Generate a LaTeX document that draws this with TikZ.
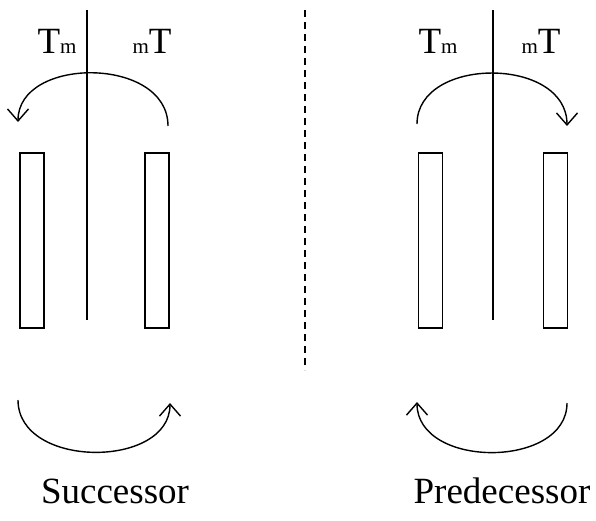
\documentclass[tikz,border=0pt]{standalone}
\usepackage{fontspec}
\setmainfont{Liberation Serif}
\usetikzlibrary{arrows.meta}

\newcommand{\Tsub}{T{\fontsize{21}{21}\selectfont m}}
\newcommand{\subT}{{\fontsize{21}{21}\selectfont m}T}

\begin{document}
\begin{tikzpicture}[x=1pt,y=-1pt,
  bar/.style={draw,line width=1.1pt,minimum width=24pt,minimum height=175pt,inner sep=0pt},
  axis/.style={line width=1.4pt},
  turn/.style={line width=1.4pt,-{Straight Barb[length=12pt,width=21pt]}},
  lbl/.style={font=\fontsize{37}{42}\selectfont,anchor=base,inner sep=0pt}]
\useasboundingbox (0,0) rectangle (596,520);

% successor side
\node[bar] (s1) at (32,240.5) {};
\node[bar] (s2) at (157,240.5) {};
\coordinate (sTop) at (87,10);
\coordinate (sBot) at (87,320);
\draw[axis] (sTop) -- (sBot);
\node[lbl] (sL) at (57,53) {\Tsub};
\node[lbl] (sR) at (152,53) {\subT};
\coordinate (sa1) at (168,126);
\coordinate (sa2) at (18,122);
\draw[turn] (sa1) .. controls (168,56) and (18,56) .. (sa2);
\coordinate (sb1) at (18,400);
\coordinate (sb2) at (170,403);
\draw[turn] (sb1) .. controls (18,469) and (170,469) .. (sb2);
\node[lbl] (succ) at (115,503) {Successor};

% divider
\coordinate (dTop) at (305,10);
\coordinate (dBot) at (305,370);
\draw[line width=1.2pt,dash pattern=on 7pt off 5pt] (dTop) -- (dBot);

% predecessor side
\node[bar] (p1) at (430.5,240.5) {};
\node[bar] (p2) at (555.5,240.5) {};
\coordinate (pTop) at (493,10);
\coordinate (pBot) at (493,320);
\draw[axis] (pTop) -- (pBot);
\node[lbl] (pL) at (438,53) {\Tsub};
\node[lbl] (pR) at (541,53) {\subT};
\coordinate (pa1) at (417,124);
\coordinate (pa2) at (567,126);
\draw[turn] (pa1) .. controls (417,56) and (567,56) .. (pa2);
\coordinate (pb1) at (567,403);
\coordinate (pb2) at (417,402);
\draw[turn] (pb1) .. controls (567,469) and (417,469) .. (pb2);
\node[lbl] (pred) at (502,503) {Predecessor};
\end{tikzpicture}
\end{document}
